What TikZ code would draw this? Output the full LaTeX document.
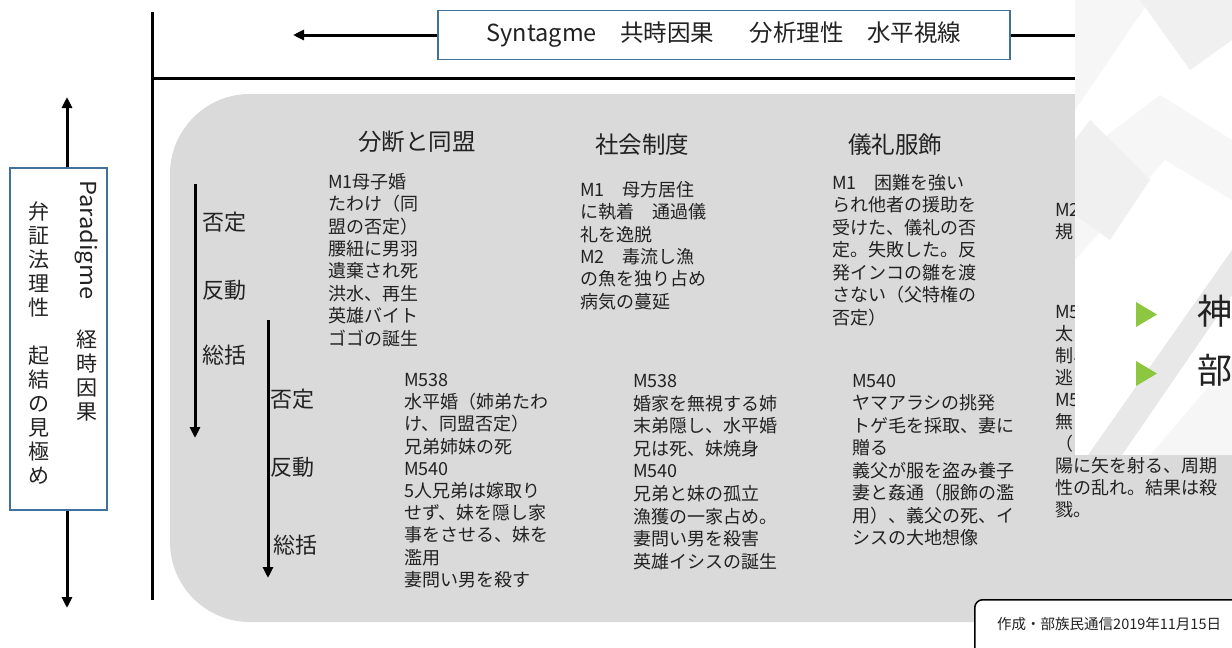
\documentclass[tikz,border=0pt]{standalone}
\usepackage{fontspec}
\setmainfont{Noto Sans CJK JP}
\usetikzlibrary{arrows.meta}
\definecolor{areagray}{HTML}{DADADA}
\definecolor{boxblue}{HTML}{41719C}
\definecolor{trigreen}{HTML}{8DC63F}
\definecolor{facetA}{HTML}{F0F0F0}
\definecolor{facetB}{HTML}{E8E8E8}
\definecolor{facetC}{HTML}{F6F6F6}
\definecolor{inkgray}{HTML}{222222}
\tikzset{
  frameline/.style={line width=3pt, black},
  conn/.style={line width=3pt, black, -{Triangle[length=11pt,width=10pt]}},
  hdr/.style={font=\fontsize{23.5}{26}\selectfont, inner sep=0, anchor=west, text=inkgray},
  body/.style={font=\fontsize{18}{22.4}\selectfont, inner sep=0, anchor=north west, align=left, text=inkgray},
  lbl/.style={font=\fontsize{22}{24}\selectfont, inner sep=0, anchor=west, text=inkgray},
  vcol/.style={font=\fontsize{21}{24}\selectfont, inner sep=0, align=center, anchor=north, text=inkgray},
  bluebox/.style={draw=boxblue, line width=1.3pt, fill=white, inner sep=0},
}
\begin{document}
\begin{tikzpicture}[x=1pt,y=-1pt]
\useasboundingbox (0,0) rectangle (1232,648);
\clip (0,0) rectangle (1232,648);
\fill[white] (0,0) rectangle (1232,648);

% gray area
\fill[areagray, rounded corners=80pt] (170,94) rectangle (1300,622);

% frame lines
\coordinate (vTop) at (152,12);
\coordinate (vBot) at (152,600);
\coordinate (hL) at (152,78);
\coordinate (hR) at (1080,78);
\draw[frameline] (vTop) -- (vBot);
\draw[frameline] (hL) -- (hR);

% Syntagme banner
\node[bluebox, minimum width=572pt, minimum height=49pt, font=\fontsize{23.5}{26}\selectfont, text=inkgray] (syn) at (724,35) {Syntagme　共時因果　\hspace{12pt}分析理性　水平視線\hspace{30pt}};
\coordinate (synR) at (1080,35);
\coordinate (synL) at (293,35);
\draw[frameline] (synR) -- (syn.east);
\draw[conn] (syn.west) -- (synL);

% Paradigme box
\node[bluebox, minimum width=97pt, minimum height=342pt] (para) at (58.5,339) {};
\coordinate (pTop) at (67,97);
\coordinate (pBot) at (67,608);
\draw[conn] (para.north -| pTop) -- (pTop);
\draw[conn] (para.south -| pBot) -- (pBot);
\node[rotate=-90, anchor=west, inner sep=0, font=\fontsize{22}{24}\selectfont, text=inkgray] (parad) at (87,180) {\scalebox{1.08}[1]{Paradigme}};
\node[vcol] (keiji) at (87,330) {経\\時\\因\\果};
\node[vcol] (bensho) at (39,202) {弁\\証\\法\\理\\性\\　\\起\\結\\の\\見\\極\\め};

% column headings
\node[hdr] (h1) at (358,142) {分断と同盟};
\node[hdr] (h2) at (595,145) {社会制度};
\node[hdr] (h3) at (848,145) {儀礼服飾};

% stage labels, first set
\node[lbl] (n1) at (202,222) {否定};
\node[lbl] (r1) at (202,290) {反動};
\node[lbl] (s1) at (202,355) {総括};
\coordinate (b1t) at (195,184);
\coordinate (b1b) at (195,438);
\draw[conn] (b1t) -- (b1b);

% stage labels, second set
\node[lbl] (n2) at (270,399) {否定};
\node[lbl] (r2) at (270,467) {反動};
\node[lbl] (s2) at (273,545) {総括};
\coordinate (b2t) at (268,320);
\coordinate (b2b) at (268,578);
\draw[conn] (b2t) -- (b2b);

% top texts
\node[body] (t1) at (328,173) {M1母子婚\\たわけ（同\\盟の否定）\\腰紐に男羽\\遺棄され死\\洪水、再生\\英雄バイト\\ゴゴの誕生};
\node[body] (t2) at (580,181) {M1　母方居住\\に執着　通過儀\\礼を逸脱\\M2　毒流し漁\\の魚を独り占め\\病気の蔓延};
\node[body, font=\fontsize{18}{22.5}\selectfont] (t3) at (832,174) {M1　困難を強い\\られ他者の援助を\\受けた、儀礼の否\\定。失敗した。反\\発インコの雛を渡\\さない（父特権の\\否定）};
\node[body, font=\fontsize{18}{22}\selectfont] (t4) at (1055,203) {M2\\規};

% bottom texts
\node[body, font=\fontsize{18}{22.2}\selectfont] (u1) at (404,373) {M538\\水平婚（姉弟たわ\\け、同盟否定）\\兄弟姉妹の死\\M540\\5人兄弟は嫁取り\\せず、妹を隠し家\\事をさせる、妹を\\濫用\\妻問い男を殺す};
\node[body, font=\fontsize{18}{22.6}\selectfont] (u2) at (633,374) {M538\\婚家を無視する姉\\末弟隠し、水平婚\\兄は死、妹焼身\\M540\\兄弟と妹の孤立\\漁獲の一家占め。\\妻問い男を殺害\\英雄イシスの誕生};
\node[body, font=\fontsize{18}{22.5}\selectfont] (u3) at (852,374) {M540\\ヤマアラシの挑発\\トゲ毛を採取、妻に\\贈る\\義父が服を盗み養子\\妻と姦通（服飾の濫\\用）、義父の死、イ\\シスの大地想像};
\node[body, font=\fontsize{18}{22}\selectfont] (u4) at (1055,305) {M5\\太\\制、\\逃\\M5\\無\\（\\陽に矢を射る、周期\\性の乱れ。結果は殺\\戮。};

% overlay panel
\fill[white] (1075,0) rectangle (1240,455);
\fill[facetC] (1075,0) -- (1150,0) -- (1075,110) -- cycle;
\fill[facetA] (1140,0) -- (1232,0) -- (1232,40) -- (1190,70) -- cycle;
\fill[facetC] (1075,160) -- (1160,95) -- (1232,140) -- (1232,200) -- (1165,160) -- (1075,260) -- cycle;
\fill[facetA] (1090,120) -- (1150,180) -- (1110,240) -- (1075,215) -- (1075,140) -- cycle;
\fill[facetB] (1088,455) -- (1122,455) -- (1232,295) -- (1232,250) -- cycle;
\fill[facetC] (1150,455) -- (1232,455) -- (1232,360) -- cycle;
\fill[trigreen] (1136,302) -- (1136,327) -- (1157,314.5) -- cycle;
\fill[trigreen] (1136,361) -- (1136,386) -- (1157,373.5) -- cycle;
\node[inner sep=0, anchor=west, font=\fontsize{35}{38}\selectfont, text=inkgray] (kami) at (1197,311) {神};
\node[inner sep=0, anchor=west, font=\fontsize{35}{38}\selectfont, text=inkgray] (bu) at (1197,370) {部};

% credit box
\node[draw=black, line width=1.5pt, rounded corners=8pt, fill=white, anchor=north west, minimum width=290pt, minimum height=60pt] (cbox) at (974,599) {};
\node[inner sep=0, anchor=west, font=\fontsize{14.5}{16}\selectfont, text=inkgray] (credit) at (997,624) {作成・部族民通信2019年11月15日};
\end{tikzpicture}
\end{document}
